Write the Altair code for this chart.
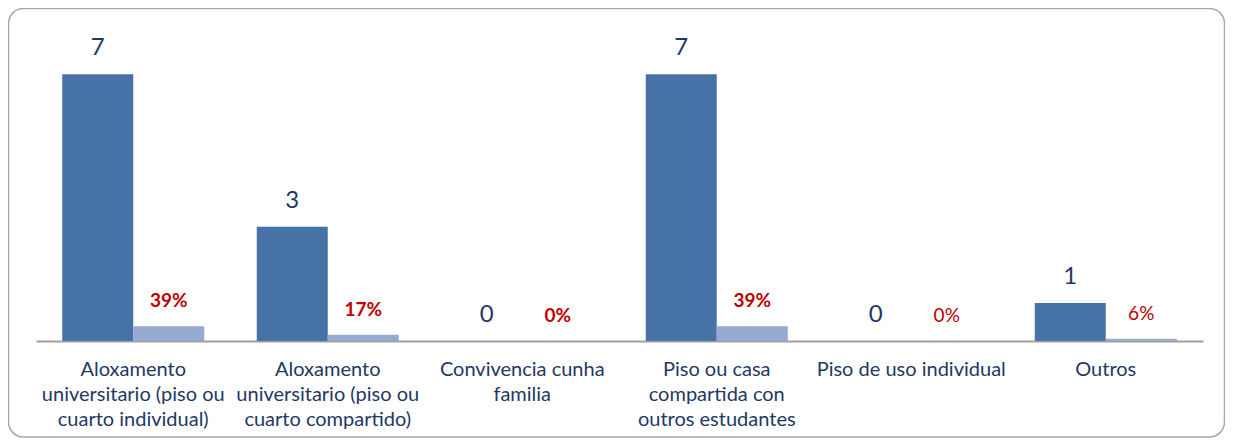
import altair as alt
import pandas as pd

categories = [
    "Aloxamento|universitario (piso ou|cuarto individual)",
    "Aloxamento|universitario (piso ou|cuarto compartido)",
    "Convivencia cunha|familia",
    "Piso ou casa|compartida con|outros estudantes",
    "Piso de uso individual",
    "Outros",
]
counts = [7, 3, 0, 7, 0, 1]
pcts = [0.389, 0.167, 0.0, 0.389, 0.0, 0.056]
pct_bold = [True, True, True, True, False, False]

rows = []
for i, c in enumerate(categories):
    rows.append({"cat": c, "series": "n", "value": counts[i], "label": str(counts[i]), "bold": False})
    rows.append({"cat": c, "series": "pct", "value": pcts[i], "label": f"{round(pcts[i]*100)}%", "bold": pct_bold[i]})
df = pd.DataFrame(rows)

DARK = "#4672a6"
LIGHT = "#95a9d1"
NAVY = "#1f3864"
RED = "#c00000"
FONT = "Lato"

x_enc = alt.X("cat:N", sort=None, title=None,
              scale=alt.Scale(paddingInner=0.27, paddingOuter=0.135),
              axis=alt.Axis(labelAngle=0, ticks=False, domainColor="#a0a0a0", domainWidth=2,
                            labelColor=NAVY, labelFont=FONT, labelFontSize=20,
                            labelLineHeight=25, labelPadding=18, labelLimit=0,
                            labelExpr="split(datum.label, '|')", labelBaseline="top"))
xo = alt.XOffset("series:N", sort=["n", "pct"], scale=alt.Scale(domain=["n", "pct"], paddingInner=0, paddingOuter=0))
y_enc = alt.Y("value:Q", axis=None, scale=alt.Scale(domain=[0, 8.4], nice=False))

base = alt.Chart(df)

bars = base.mark_bar().encode(
    x=x_enc, xOffset=xo, y=y_enc,
    color=alt.Color("series:N", scale=alt.Scale(domain=["n", "pct"], range=[DARK, LIGHT]), legend=None),
)

count_text = base.transform_filter(alt.datum.series == "n").mark_text(
    baseline="middle", dy=-26, font=FONT, fontSize=24, color=NAVY
).encode(x=x_enc, xOffset=xo, y=y_enc, text="label:N")

pct_bold_text = base.transform_filter((alt.datum.series == "pct") & (alt.datum.bold == True)).mark_text(
    baseline="middle", dy=-25, font=FONT, fontSize=19, fontWeight="bold", color=RED
).encode(x=x_enc, xOffset=xo, y=y_enc, text="label:N")

pct_norm_text = base.transform_filter((alt.datum.series == "pct") & (alt.datum.bold == False)).mark_text(
    baseline="middle", dy=-25, font=FONT, fontSize=19, color=RED
).encode(x=x_enc, xOffset=xo, y=y_enc, text="label:N")

frame = alt.Chart(pd.DataFrame({"a": [0]})).mark_rect(
    fill=None, stroke="#a6a6a6", strokeWidth=1.5, cornerRadius=15
).encode(
    x=alt.value(-27.5), x2=alt.value(1188.5), y=alt.value(-12.5), y2=alt.value(416)
)

chart = alt.layer(frame, bars, count_text, pct_bold_text, pct_norm_text).properties(
    width=1167, height=320,
    padding={"left": 28, "top": 13, "right": 22, "bottom": 97},
    autosize=alt.AutoSizeParams(type="none"),
).configure_view(stroke=None)

chart.save("out.html", embed_options={"renderer": "svg", "actions": False})
